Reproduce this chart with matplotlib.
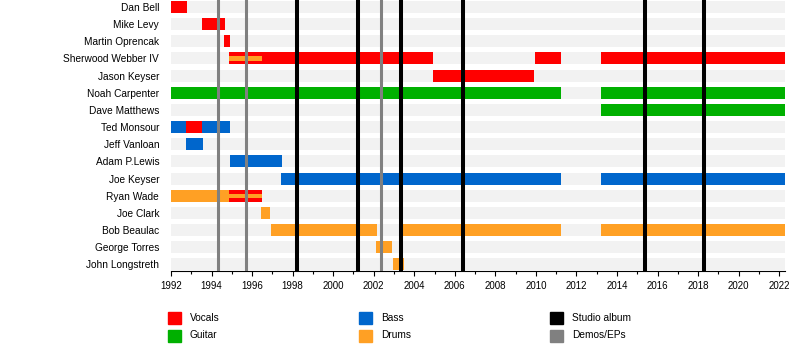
import matplotlib
matplotlib.use("Agg")
import matplotlib.pyplot as plt
from matplotlib.patches import Rectangle
from matplotlib.ticker import MultipleLocator

plt.rcParams.update({"font.family": ["Liberation Sans", "DejaVu Sans"], "font.size": 7.3})

members = ["Dan Bell", "Mike Levy", "Martin Oprencak", "Sherwood Webber IV", "Jason Keyser",
           "Noah Carpenter", "Dave Matthews", "Ted Monsour", "Jeff Vanloan", "Adam P.Lewis",
           "Joe Keyser", "Ryan Wade", "Joe Clark", "Bob Beaulac", "George Torres", "John Longstreth"]

# (member, role, start, end)
periods = [
    ("Dan Bell", "Vocals", 1992.0, 1992.77),
    ("Mike Levy", "Vocals", 1993.53, 1994.66),
    ("Martin Oprencak", "Vocals", 1994.61, 1994.91),
    ("Sherwood Webber IV", "Vocals", 1994.86, 2004.9),
    ("Sherwood Webber IV", "Vocals", 2009.95, 2011.23),
    ("Sherwood Webber IV", "Vocals", 2013.2, 2022.3),
    ("Jason Keyser", "Vocals", 2004.9, 2009.88),
    ("Noah Carpenter", "Guitar", 1992.0, 2011.23),
    ("Noah Carpenter", "Guitar", 2013.2, 2022.3),
    ("Dave Matthews", "Guitar", 2013.2, 2022.3),
    ("Ted Monsour", "Bass", 1992.0, 1992.74),
    ("Ted Monsour", "Vocals", 1992.74, 1993.53),
    ("Ted Monsour", "Bass", 1993.53, 1994.91),
    ("Jeff Vanloan", "Bass", 1992.74, 1993.58),
    ("Adam P.Lewis", "Bass", 1994.91, 1997.47),
    ("Joe Keyser", "Bass", 1997.42, 2011.23),
    ("Joe Keyser", "Bass", 2013.2, 2022.3),
    ("Ryan Wade", "Drums", 1992.0, 1994.86),
    ("Ryan Wade", "Vocals", 1994.86, 1996.47),
    ("Joe Clark", "Drums", 1996.44, 1996.88),
    ("Bob Beaulac", "Drums", 1996.93, 2002.16),
    ("Bob Beaulac", "Drums", 2003.44, 2011.23),
    ("Bob Beaulac", "Drums", 2013.2, 2022.3),
    ("George Torres", "Drums", 2002.11, 2002.9),
    ("John Longstreth", "Drums", 2002.95, 2003.49),
]

# secondary roles, drawn as thin bars
extra_periods = [
    ("Sherwood Webber IV", "Drums", 1994.86, 1996.47),
    ("Ryan Wade", "Drums", 1994.86, 1996.47),
]

studio_albums = [1998.21, 2001.24, 2003.34, 2006.41, 2015.37, 2018.30]
demos = [1994.33, 1995.71, 2002.36]

start_year = 1992.0
end_year = 2022.3

role_colors = {"Vocals": "#ff0000", "Guitar": "#00b000", "Bass": "#0066cc", "Drums": "#ffa024"}
legend_labels = ["Vocals", "Guitar", "Bass", "Drums", "Studio album", "Demos/EPs"]
legend_colors = ["#ff0000", "#00b000", "#0066cc", "#ffa024", "#000000", "#808080"]

fig = plt.figure(figsize=(8, 3.5), dpi=100)
ax = fig.add_axes([0.21375, 0.2271, 0.7679, 0.7729])

rows = {name: i for i, name in enumerate(members)}

# background stripes
ax.barh(range(len(members)), end_year - start_year, left=start_year, height=0.7,
        color="#f2f2f2", zorder=0)

for name, role, s, e in periods:
    ax.barh(rows[name], e - s, left=s, height=0.7, color=role_colors[role], zorder=2)
for name, role, s, e in extra_periods:
    ax.barh(rows[name], e - s, left=s, height=0.25, color=role_colors[role], zorder=3)

for x in studio_albums:
    ax.axvline(x, color="black", lw=2.9, zorder=4)
for x in demos:
    ax.axvline(x, color="#808080", lw=2.2, zorder=4)

ax.set_xlim(start_year, end_year)
ax.set_ylim(15.355, -0.399)
ax.set_yticks(range(len(members)))
ax.set_yticklabels(members)
ax.tick_params(axis="y", length=0, pad=8.5)
ax.xaxis.set_major_locator(MultipleLocator(2))
ax.xaxis.set_minor_locator(MultipleLocator(1))
ax.tick_params(axis="x", which="major", length=3.6, width=0.8, pad=4, labelsize=7)
ax.tick_params(axis="x", which="minor", length=2, width=0.8)
for side in ["left", "right", "top"]:
    ax.spines[side].set_visible(False)
ax.spines["bottom"].set_linewidth(0.8)

# legend, three columns of two
col_x = [168, 359, 550]
row_y = [318, 335.5]
for i, (label, color) in enumerate(zip(legend_labels, legend_colors)):
    cx = col_x[i // 2]
    cy = row_y[i % 2]
    fig.patches.append(Rectangle((cx / 800, 1 - (cy + 6) / 350), 12.5 / 800, 12 / 350,
                                 transform=fig.transFigure, color=color, figure=fig))
    fig.text((cx + 22) / 800, 1 - cy / 350, label, va="center", ha="left", fontsize=7.3)

fig.savefig("out.png", dpi=100)
